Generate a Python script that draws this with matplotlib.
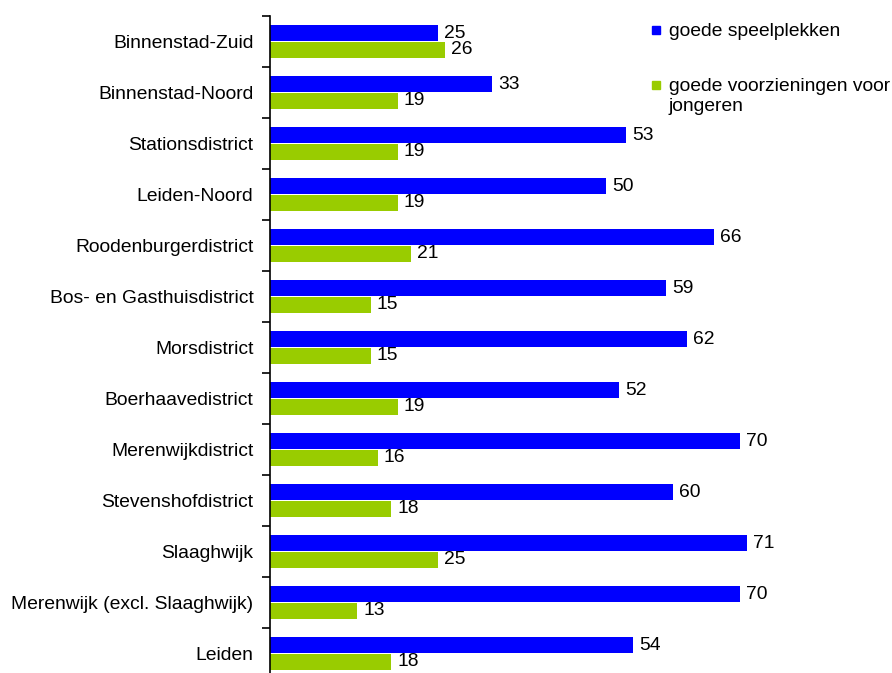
import matplotlib
matplotlib.use("Agg")
import matplotlib.pyplot as plt
from matplotlib.patches import Rectangle
import numpy as np

plt.rcParams['font.family'] = ['Liberation Sans', 'DejaVu Sans']

categories = ["Binnenstad-Zuid", "Binnenstad-Noord", "Stationsdistrict", "Leiden-Noord",
              "Roodenburgerdistrict", "Bos- en Gasthuisdistrict", "Morsdistrict",
              "Boerhaavedistrict", "Merenwijkdistrict", "Stevenshofdistrict", "Slaaghwijk",
              "Merenwijk (excl. Slaaghwijk)", "Leiden"]
speelplekken = [25, 33, 53, 50, 66, 59, 62, 52, 70, 60, 71, 70, 54]
jongeren = [26, 19, 19, 19, 21, 15, 15, 19, 16, 18, 25, 13, 18]
series_names = ["goede speelplekken", "goede voorzieningen voor\njongeren"]
colors = ['#0000FF', '#99CC00']

W, H = 892, 673
FS = 13.9
fig = plt.figure(figsize=(W/100, H/100), dpi=100)
left, top, step = 270, 16, 51
n = len(categories)
bottom_px = top + n*step
ax = fig.add_axes([left/W, 1 - bottom_px/H, (W-left)/W, n*step/H])

y = np.arange(n)
bh = 0.31
b1 = ax.barh(y - bh/2 - 0.01, speelplekken, height=bh, color=colors[0], label=series_names[0])
b2 = ax.barh(y + bh/2 + 0.01, jongeren, height=bh, color=colors[1], label=series_names[1])
ax.set_ylim(n - 0.5, -0.5)
ax.set_xlim(0, (W-left)/6.72)

for bars, vals in ((b1, speelplekken), (b2, jongeren)):
    for rect, v in zip(bars, vals):
        ax.text(v + 0.9, rect.get_y() + rect.get_height()/2, str(v),
                va='center', ha='left', fontsize=FS)

ax.set_yticks(y)
ax.set_yticklabels(categories, fontsize=FS)
ax.tick_params(axis='y', which='major', length=0, pad=12)
ax.set_yticks(np.arange(n + 1) - 0.5, minor=True)
ax.tick_params(axis='y', which='minor', length=6, width=1.2, direction='out')
ax.set_xticks([])
for s in ['top', 'right', 'bottom']:
    ax.spines[s].set_visible(False)
ax.spines['left'].set_linewidth(1.2)

# legend (manual, to match layout: marker aligned with first line)
leg_y = [30, 85]
for name, c, yy in zip(series_names, colors, leg_y):
    fig.patches.append(Rectangle((652/W, 1 - (yy + 4)/H), 8/W, 8/H,
                                 transform=fig.transFigure, color=c))
    fig.text(669/W, 1 - (yy - 7)/H, name, fontsize=FS, va='top', ha='left',
             linespacing=1.2)

fig.savefig("out.png", dpi=100)
